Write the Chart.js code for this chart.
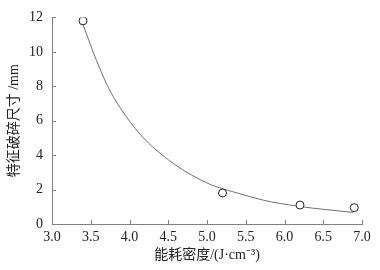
<!DOCTYPE html>
<html>
<head>
<meta charset="utf-8">
<script src="https://cdn.jsdelivr.net/npm/chart.js@4.4.0/dist/chart.umd.min.js"></script>
<style>
  html, body { margin: 0; padding: 0; background: #fff; }
  #wrap { width: 380px; height: 270px; }
</style>
</head>
<body>
<div id="wrap"><canvas id="c"></canvas></div>
<script>
// measured points
var densX = [3.4, 5.2, 6.2, 6.9];
var sizeY = [11.8, 1.8, 1.1, 0.95];
// fitted curve
var curveX = [3.40, 3.53, 3.62, 3.73, 3.88, 4.14, 4.57, 5.04, 5.20, 5.43, 5.73, 6.16, 6.89];
var curveY = [11.6, 10.0, 9.0, 7.9, 6.75, 5.2, 3.5, 2.3, 2.05, 1.75, 1.38, 1.04, 0.67];
// axis ticks
var xTicks = [3.0, 3.5, 4.0, 4.5, 5.0, 5.5, 6.0, 6.5, 7.0];
var yTicks = [0, 2, 4, 6, 8, 10, 12];

var fontFam = "'Liberation Serif', 'Times New Roman', 'Noto Sans CJK SC', serif";
var axisCol = '#808080';

// ticks pointing into the plot
var inTicks = {
  id: 'inTicks',
  afterDatasetsDraw: function(chart) {
    var ctx = chart.ctx, a = chart.chartArea;
    var sx = chart.scales.x, sy = chart.scales.y;
    ctx.save();
    ctx.strokeStyle = axisCol;
    ctx.lineWidth = 1;
    ctx.beginPath();
    xTicks.forEach(function(v) {
      var p = Math.round(sx.getPixelForValue(v)) + 0.5;
      ctx.moveTo(p, a.bottom);
      ctx.lineTo(p, a.bottom - 4);
    });
    yTicks.forEach(function(v) {
      var p = Math.round(sy.getPixelForValue(v)) + 0.5;
      ctx.moveTo(a.left, p);
      ctx.lineTo(a.left + 4, p);
    });
    ctx.stroke();
    ctx.restore();
  }
};

var pts = densX.map(function(x, i) { return {x: x, y: sizeY[i]}; });
var crv = curveX.map(function(x, i) { return {x: x, y: curveY[i]}; });

new Chart(document.getElementById('c'), {
  type: 'scatter',
  data: {
    datasets: [{
      data: pts,
      pointRadius: 4,
      pointHoverRadius: 4,
      pointBorderWidth: 1,
      pointBorderColor: '#222',
      pointBackgroundColor: '#fff',
      showLine: false
    }, {
      data: crv,
      showLine: true,
      pointRadius: 0,
      borderColor: '#707070',
      borderWidth: 1,
      cubicInterpolationMode: 'monotone',
      fill: false
    }]
  },
  options: {
    responsive: true,
    maintainAspectRatio: false,
    animation: false,
    events: [],
    layout: { padding: { top: 16, right: 18, left: 0, bottom: 0 } },
    plugins: { legend: { display: false }, tooltip: { enabled: false } },
    scales: {
      x: {
        type: 'linear', min: 3, max: 7,
        afterFit: function(s) { s.height = 46; },
        afterBuildTicks: function(s) { s.ticks = xTicks.map(function(v) { return {value: v}; }); },
        grid: { display: true, drawOnChartArea: false, drawTicks: false },
        border: { display: true, color: axisCol, width: 1 },
        ticks: {
          padding: 5, color: '#222', maxRotation: 0,
          font: { family: fontFam, size: 14 },
          callback: function(v) { return v.toFixed(1); }
        },
        title: {
          display: true, text: '能耗密度/(J·cm⁻³)', color: '#222',
          font: { family: fontFam, size: 14 },
          padding: { top: 0, bottom: 6 }
        }
      },
      y: {
        type: 'linear', min: 0, max: 12,
        afterFit: function(s) { s.width = 52; },
        afterBuildTicks: function(s) { s.ticks = yTicks.map(function(v) { return {value: v}; }); },
        grid: { display: true, drawOnChartArea: false, drawTicks: false },
        border: { display: true, color: axisCol, width: 1 },
        ticks: {
          padding: 9, color: '#222',
          font: { family: fontFam, size: 14 }
        },
        title: {
          display: true, text: '特征破碎尺寸 /mm', color: '#222',
          font: { family: fontFam, size: 14 },
          padding: { top: 6, bottom: 0 }
        }
      }
    }
  },
  plugins: [inTicks]
});
</script>
</body>
</html>
